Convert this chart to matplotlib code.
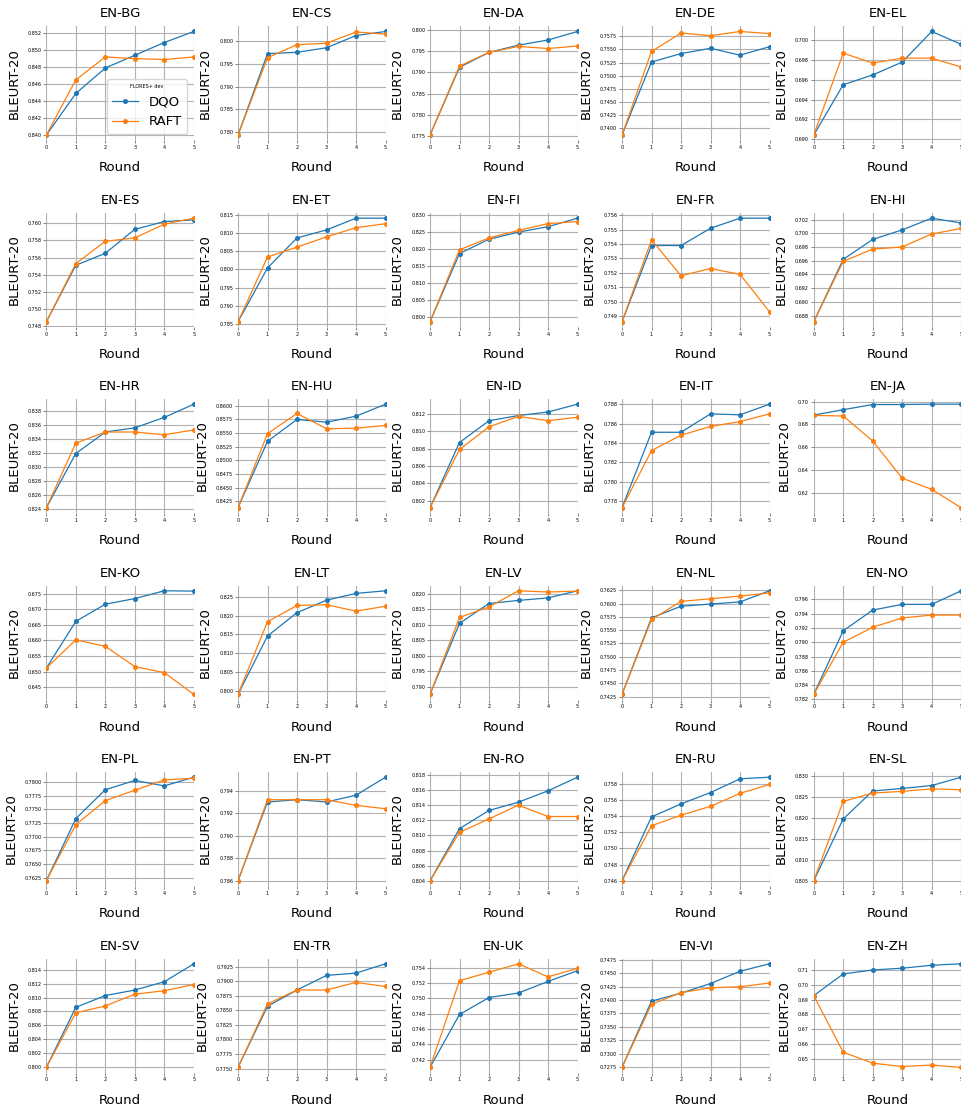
########################################################################
#   plot.py
#   BLEURT-20 on FLORES+ dev by training round, DQO vs RAFT,
#   one small panel per language pair (6 x 5 grid)
########################################################################
import matplotlib
matplotlib.use("Agg")
import matplotlib.pyplot as plt

#-----------------------------------------------------------------------
# data
rounds = [0, 1, 2, 3, 4, 5]

pairs = ["EN-BG", "EN-CS", "EN-DA", "EN-DE", "EN-EL",
         "EN-ES", "EN-ET", "EN-FI", "EN-FR", "EN-HI",
         "EN-HR", "EN-HU", "EN-ID", "EN-IT", "EN-JA",
         "EN-KO", "EN-LT", "EN-LV", "EN-NL", "EN-NO",
         "EN-PL", "EN-PT", "EN-RO", "EN-RU", "EN-SL",
         "EN-SV", "EN-TR", "EN-UK", "EN-VI", "EN-ZH"]

dqo_scores = [
    [0.8400, 0.8449, 0.8479, 0.8494, 0.8509, 0.8522],   # BG
    [0.7793, 0.7973, 0.7976, 0.7986, 0.8013, 0.8022],   # CS
    [0.7753, 0.7912, 0.7947, 0.7964, 0.7976, 0.7996],   # DA
    [0.7387, 0.7526, 0.7542, 0.7552, 0.7539, 0.7555],   # DE
    [0.6904, 0.6955, 0.6965, 0.6978, 0.7009, 0.6996],   # EL
    [0.7485, 0.7551, 0.7565, 0.7593, 0.7602, 0.7604],   # ES
    [0.7857, 0.8004, 0.8086, 0.8108, 0.8140, 0.8140],   # ET
    [0.7986, 0.8187, 0.8229, 0.8250, 0.8266, 0.8291],   # FI
    [0.7486, 0.7539, 0.7539, 0.7551, 0.7558, 0.7558],   # FR
    [0.6871, 0.6962, 0.6991, 0.7005, 0.7022, 0.7015],   # HI
    [0.8241, 0.8319, 0.8350, 0.8356, 0.8371, 0.8390],   # HR
    [0.8413, 0.8535, 0.8575, 0.8570, 0.8581, 0.8603],   # HU
    [0.8012, 0.8087, 0.8112, 0.8118, 0.8122, 0.8131],   # ID
    [0.7773, 0.7851, 0.7851, 0.7870, 0.7869, 0.7880],   # IT
    [0.6882, 0.6929, 0.6974, 0.6974, 0.6977, 0.6977],   # JA
    [0.6511, 0.6661, 0.6716, 0.6734, 0.6759, 0.6758],   # KO
    [0.7991, 0.8146, 0.8208, 0.8241, 0.8259, 0.8266],   # LT
    [0.7875, 0.8104, 0.8168, 0.8178, 0.8186, 0.8209],   # LV
    [0.7429, 0.7573, 0.7595, 0.7599, 0.7603, 0.7624],   # NL
    [0.7827, 0.7916, 0.7945, 0.7953, 0.7953, 0.7972],   # NO
    [0.7619, 0.7733, 0.7786, 0.7803, 0.7793, 0.7809],   # PL
    [0.7860, 0.7930, 0.7932, 0.7930, 0.7936, 0.7952],   # PT
    [0.8040, 0.8109, 0.8133, 0.8144, 0.8159, 0.8177],   # RO
    [0.7460, 0.7539, 0.7555, 0.7569, 0.7586, 0.7588],   # RU
    [0.8050, 0.8198, 0.8265, 0.8271, 0.8278, 0.8298],   # SL
    [0.7999, 0.8086, 0.8103, 0.8111, 0.8123, 0.8149],   # SV
    [0.7752, 0.7857, 0.7885, 0.7910, 0.7914, 0.7930],   # TR
    [0.7410, 0.7479, 0.7501, 0.7507, 0.7522, 0.7536],   # UK
    [0.7274, 0.7398, 0.7413, 0.7431, 0.7454, 0.7468],   # VI
    [0.6928, 0.7075, 0.7102, 0.7114, 0.7134, 0.7144],   # ZH
]

raft_scores = [
    [0.8400, 0.8465, 0.8492, 0.8490, 0.8489, 0.8492],   # BG
    [0.7793, 0.7964, 0.7993, 0.7996, 0.8021, 0.8016],   # CS
    [0.7753, 0.7915, 0.7947, 0.7961, 0.7956, 0.7962],   # DA
    [0.7387, 0.7546, 0.7581, 0.7576, 0.7584, 0.7580],   # DE
    [0.6904, 0.6987, 0.6977, 0.6982, 0.6982, 0.6973],   # EL
    [0.7485, 0.7553, 0.7579, 0.7583, 0.7599, 0.7606],   # ES
    [0.7857, 0.8034, 0.8061, 0.8089, 0.8114, 0.8125],   # ET
    [0.7986, 0.8198, 0.8233, 0.8255, 0.8275, 0.8281],   # FI
    [0.7486, 0.7543, 0.7518, 0.7523, 0.7519, 0.7493],   # FR
    [0.6871, 0.6959, 0.6977, 0.6980, 0.6999, 0.7007],   # HI
    [0.8241, 0.8334, 0.8350, 0.8350, 0.8346, 0.8353],   # HR
    [0.8413, 0.8549, 0.8586, 0.8558, 0.8559, 0.8564],   # HU
    [0.8012, 0.8079, 0.8105, 0.8117, 0.8112, 0.8116],   # ID
    [0.7773, 0.7832, 0.7848, 0.7857, 0.7862, 0.7870],   # IT
    [0.6879, 0.6874, 0.6656, 0.6332, 0.6235, 0.6074],   # JA
    [0.6511, 0.6602, 0.6581, 0.6516, 0.6497, 0.6427],   # KO
    [0.7991, 0.8184, 0.8227, 0.8229, 0.8212, 0.8225],   # LT
    [0.7875, 0.8123, 0.8157, 0.8209, 0.8205, 0.8208],   # LV
    [0.7429, 0.7570, 0.7604, 0.7609, 0.7614, 0.7620],   # NL
    [0.7827, 0.7900, 0.7921, 0.7934, 0.7938, 0.7938],   # NO
    [0.7619, 0.7722, 0.7766, 0.7785, 0.7804, 0.7807],   # PL
    [0.7860, 0.7932, 0.7932, 0.7932, 0.7927, 0.7924],   # PT
    [0.8040, 0.8104, 0.8122, 0.8140, 0.8125, 0.8125],   # RO
    [0.7460, 0.7528, 0.7541, 0.7552, 0.7568, 0.7579],   # RU
    [0.8050, 0.8240, 0.8260, 0.8264, 0.8270, 0.8268],   # SL
    [0.7999, 0.8078, 0.8088, 0.8105, 0.8110, 0.8119],   # SV
    [0.7752, 0.7861, 0.7885, 0.7885, 0.7898, 0.7891],   # TR
    [0.7410, 0.7523, 0.7534, 0.7545, 0.7528, 0.7539],   # UK
    [0.7274, 0.7392, 0.7414, 0.7423, 0.7425, 0.7432],   # VI
    [0.6928, 0.6544, 0.6470, 0.6447, 0.6457, 0.6441],   # ZH
]

series_names = ["DQO", "RAFT"]
series_colors = ["#1f77b4", "#ff7f0e"]

#-----------------------------------------------------------------------
# layout (pixels of a 961 x 1107 canvas)
FIG_W, FIG_H = 961, 1107
col_left = [46.3, 238.0, 430.0, 622.0, 813.7]
row_top = [26.3, 213.0, 399.0, 585.6, 772.0, 958.6]
AX_W, AX_H = 147.5, 114.0


# ---draw_panel---------------------------------------------------------
# one language pair: both series, grid, labels
# ----------------------------------------------------------------------
def draw_panel(ax, title, dqo, raft):
    for vals, name, col in zip([dqo, raft], series_names, series_colors):
        ax.plot(rounds, vals, marker='o', ms=2.6, lw=0.9, color=col,
                label=name)
    ax.set_xlim(rounds[0], rounds[-1])
    ax.set_xticks(rounds)
    ax.grid(True, color='#b0b0b0', lw=0.8)
    ax.set_axisbelow(True)
    for s in ax.spines.values():
        s.set_visible(False)
    ax.tick_params(labelsize=3.5, length=2, width=0.5, pad=1.5,
                   color='#555555')
    ax.set_title(title, fontsize=9.5, pad=6.5)
    ax.set_xlabel("Round", fontsize=9.5, labelpad=8)
    ax.set_ylabel("BLEURT-20", fontsize=9.5, labelpad=5)


#-----------------------------------------------------------------------
# ---MAINCODE-----------------------------------------------------------
fig = plt.figure(figsize=(FIG_W / 100, FIG_H / 100), dpi=100)

for i, pair in enumerate(pairs):
    r, c = divmod(i, 5)
    rect = [col_left[c] / FIG_W,
            1 - (row_top[r] + AX_H) / FIG_H,
            AX_W / FIG_W,
            AX_H / FIG_H]
    ax = fig.add_axes(rect)
    draw_panel(ax, pair, dqo_scores[i], raft_scores[i])
    if i == 0:
        leg = ax.legend(loc='lower right', fontsize=9.5,
                        title="FLORES+ dev", title_fontsize=3.5)

fig.savefig("out.png", dpi=100)
